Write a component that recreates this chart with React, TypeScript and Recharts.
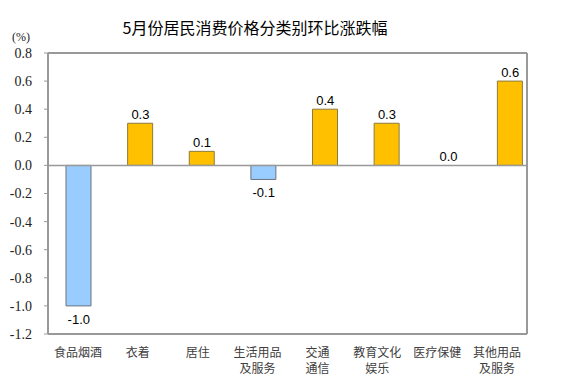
import React from 'react';
import {
  ComposedChart,
  Bar,
  Line,
  XAxis,
  YAxis,
  Cell,
  LabelList,
  ReferenceLine
} from 'recharts';

// 5月份居民消费价格分类别环比涨跌幅 (%)
const categories = [
  '食品烟酒',
  '衣着',
  '居住',
  '生活用品\n及服务',
  '交通\n通信',
  '教育文化\n娱乐',
  '医疗保健',
  '其他用品\n及服务'
];
const changes = [-1.0, 0.3, 0.1, -0.1, 0.4, 0.3, 0.0, 0.6];
const yTicks = [-1.2, -1.0, -0.8, -0.6, -0.4, -0.2, 0.0, 0.2, 0.4, 0.6, 0.8];

const data = categories.map((name, i) => ({ name, value: changes[i] }));

const BORDER = '#999999';
const SERIF = "'Liberation Serif', 'Times New Roman', 'DejaVu Serif', serif";

const CategoryTick = (props: any) => {
  const { x, y, payload } = props;
  const lines = String(payload.value).split('\n');
  return (
    <g>
      {lines.map((line: string, i: number) => (
        <text
          key={i}
          x={x}
          y={y + 23 + i * 16}
          textAnchor="middle"
          fontSize={12}
          fontFamily="Noto Sans CJK SC, sans-serif"
          fill="#404040"
        >
          {line}
        </text>
      ))}
    </g>
  );
};

const ValueLabel = (props: any) => {
  const { x, y, value } = props;
  const ty = value < 0 ? y + 18 : y - 4;
  return (
    <text
      x={x}
      y={ty}
      textAnchor="middle"
      fontSize={13}
      fontFamily="Liberation Sans, Arial, sans-serif"
      fill="#000"
    >
      {Number(value).toFixed(1)}
    </text>
  );
};

export default function App() {
  return (
    <div style={{ position: 'fixed', left: 0, top: 0, width: 578, height: 392, background: '#fff' }}>
      <div
        style={{
          position: 'absolute',
          left: 0,
          width: 510,
          top: 15,
          textAlign: 'center',
          fontFamily: 'Noto Sans CJK SC, sans-serif',
          fontSize: 16,
          color: '#000'
        }}
      >
        5月份居民消费价格分类别环比涨跌幅
      </div>
      <div
        style={{
          position: 'absolute',
          left: 12,
          top: 30,
          fontFamily: SERIF,
          fontSize: 12,
          color: '#222'
        }}
      >
        (%)
      </div>
      <ComposedChart
        width={578}
        height={392}
        data={data}
        margin={{ top: 53, right: 51, bottom: 0, left: 0 }}
      >
        <XAxis
          xAxisId="lab"
          dataKey="name"
          height={58}
          interval={0}
          axisLine={{ stroke: BORDER, strokeWidth: 2 }}
          tickLine={false}
          tickSize={0}
          tickMargin={0}
          tick={<CategoryTick />}
        />
        {/* bars sit on their own slightly wider band scale, as in the source */}
        <XAxis
          xAxisId="b"
          dataKey="name"
          orientation="top"
          height={0}
          hide
          padding={{ left: 0, right: -14 }}
        />
        <YAxis
          width={48}
          domain={[-1.2, 0.8]}
          ticks={yTicks}
          interval={0}
          axisLine={{ stroke: BORDER, strokeWidth: 2 }}
          tickSize={4}
          tickMargin={12}
          tickLine={{ stroke: BORDER }}
          tickFormatter={(v: number) => v.toFixed(1)}
          tick={{ fontSize: 14, fontFamily: SERIF, fill: '#222' }}
        />
        {/* frame top / right edge, zero line */}
        <ReferenceLine xAxisId="lab" y={0.8} stroke={BORDER} strokeWidth={2} />
        <ReferenceLine
          xAxisId="lab"
          x={categories[categories.length - 1]}
          position="end"
          stroke={BORDER}
          strokeWidth={2}
        />
        <ReferenceLine xAxisId="lab" y={0} stroke={BORDER} strokeWidth={1.5} />
        <Bar xAxisId="b" dataKey="value" barSize={25} isAnimationActive={false}>
          {data.map((d, i) => (
            <Cell
              key={`cell-${i}`}
              fill={d.value < 0 ? '#99ccff' : '#ffc000'}
              stroke={d.value < 0 ? '#6b7380' : '#8c7a3c'}
              strokeWidth={1}
            />
          ))}
        </Bar>
        <Line
          xAxisId="b"
          dataKey="value"
          stroke="none"
          dot={false}
          activeDot={false}
          isAnimationActive={false}
        >
          <LabelList dataKey="value" content={<ValueLabel />} />
        </Line>
      </ComposedChart>
    </div>
  );
}
